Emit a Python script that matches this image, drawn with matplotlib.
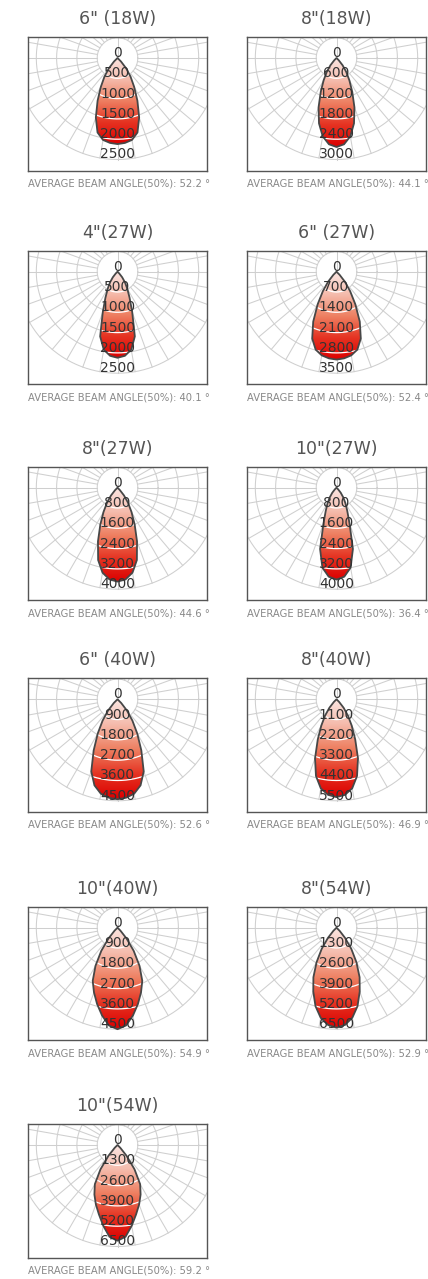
import numpy as np
import matplotlib.pyplot as plt
from matplotlib.colors import LinearSegmentedColormap
from matplotlib.patches import Polygon

# panel titles, beam angles and ring step of each polar diagram
titles = ['6" (18W)', '8"(18W)', '4"(27W)', '6" (27W)', '8"(27W)', '10"(27W)',
          '6" (40W)', '8"(40W)', '10"(40W)', '8"(54W)', '10"(54W)']
beam_angles = [52.2, 44.1, 40.1, 52.4, 44.6, 36.4, 52.6, 46.9, 54.9, 52.9, 59.2]
ring_steps = [500, 600, 500, 700, 800, 800, 900, 1100, 900, 1300, 1300]

angles = [0, 5, 10, 15, 20, 25, 30, 35, 40, 45, 50]
cd_6in_18w = [2120, 2100, 2050, 1900, 1560, 1160, 820, 560, 330, 120, 0]
cd_8in_18w = [2630, 2560, 2350, 2000, 1550, 1100, 760, 500, 280, 90, 0]
cd_4in_27w = [2120, 2080, 1950, 1650, 1060, 700, 480, 320, 180, 60, 0]
cd_6in_27w = [3030, 3000, 2930, 2780, 2450, 1900, 1300, 820, 450, 150, 0]
cd_8in_27w = [3700, 3630, 3400, 2950, 2250, 1600, 1100, 720, 400, 130, 0]
cd_10in_27w = [3620, 3520, 3200, 2500, 1500, 1000, 700, 460, 260, 90, 0]
cd_6in_40w = [4430, 4380, 4250, 3950, 3400, 2500, 1750, 1150, 650, 230, 0]
cd_8in_40w = [5300, 5200, 4900, 4300, 3400, 2400, 1650, 1080, 600, 200, 0]
cd_10in_40w = [4500, 4350, 3950, 3500, 3050, 2600, 1950, 1250, 620, 180, 0]
cd_8in_54w = [6400, 6250, 5850, 5200, 4350, 3500, 2550, 1650, 850, 280, 0]
cd_10in_54w = [6130, 5900, 5250, 4600, 4050, 3500, 2900, 1900, 900, 250, 0]

curves = [cd_6in_18w, cd_8in_18w, cd_4in_27w, cd_6in_27w, cd_8in_27w, cd_10in_27w,
          cd_6in_40w, cd_8in_40w, cd_10in_40w, cd_8in_54w, cd_10in_54w]

W, H = 428, 1279
fig = plt.figure(figsize=(W / 100, H / 100), dpi=100)

box_left = [28.3, 247.3]
box_top = [37, 250.7, 466.7, 678.3, 906.7, 1124]
bw, bh = 178.4, 133.6
ring = 20.3   # pixels per ring
cy = 21       # pixels from box top to the centre

cmap = LinearSegmentedColormap.from_list(
    'lobe', ['#fbe6e2', '#f5bcad', '#ee8062', '#e53322', '#dc0000'])
grad = np.linspace(0, 1, 256).reshape(-1, 1)
t = np.linspace(0, 2 * np.pi, 361)

for i, title in enumerate(titles):
    row, col = divmod(i, 2)
    x0, top = box_left[col], box_top[row]
    ax = fig.add_axes([x0 / W, 1 - (top + bh) / H, bw / W, bh / H])
    half = bw / 2 / ring
    step = ring_steps[i]

    # polar grid
    for k in range(1, 6):
        ax.plot(k * np.cos(t), k * np.sin(t), color='#cfcfcf', lw=0.75, zorder=1)
    for a in range(0, 360, 10):
        ar = np.radians(a)
        ax.plot([np.sin(ar), 5 * np.sin(ar)], [np.cos(ar), 5 * np.cos(ar)],
                color='#cfcfcf', lw=0.75, zorder=1)
    ax.plot([0, 0], [0, 1], color='#cfcfcf', lw=0.75, zorder=1)

    # lobe
    a = np.array(angles, dtype=float)
    v = np.array(curves[i], dtype=float) / step
    th = np.radians(np.r_[-a[::-1], a[1:]])
    rr = np.r_[v[::-1], v[1:]]
    xs, ys = rr * np.sin(th), -rr * np.cos(th)
    poly = Polygon(np.c_[xs, ys], closed=True, fc='none', ec='#474747',
                   lw=1.3, joinstyle='round', zorder=4)
    ax.add_patch(poly)
    im = ax.imshow(grad, extent=[-half, half, ys.min(), 0], cmap=cmap,
                   aspect='auto', interpolation='bicubic', zorder=2)
    im.set_clip_path(poly)
    for k in range(1, 6):
        ln, = ax.plot(k * np.cos(t), k * np.sin(t), color='white', lw=0.9, zorder=3)
        ln.set_clip_path(poly)

    for k in range(6):
        ax.text(0, -k + 0.25, f'{k * step}', ha='center', va='center',
                fontsize=10, color='#333333', zorder=5)

    ax.set_xlim(-half, half)
    ax.set_ylim(cy / ring - bh / ring, cy / ring)
    ax.set_xticks([])
    ax.set_yticks([])
    for sp in ax.spines.values():
        sp.set_color('#555555')
        sp.set_linewidth(1.0)

    fig.text((x0 + bw / 2) / W, 1 - (top - 18) / H, title, ha='center', va='center',
             fontsize=12.5, color='#555555')
    fig.text(x0 / W, 1 - (top + bh + 13) / H,
             f'AVERAGE BEAM ANGLE(50%): {beam_angles[i]} °',
             ha='left', va='center', fontsize=7.2, color='#888888')

fig.savefig('out.png', dpi=100)
